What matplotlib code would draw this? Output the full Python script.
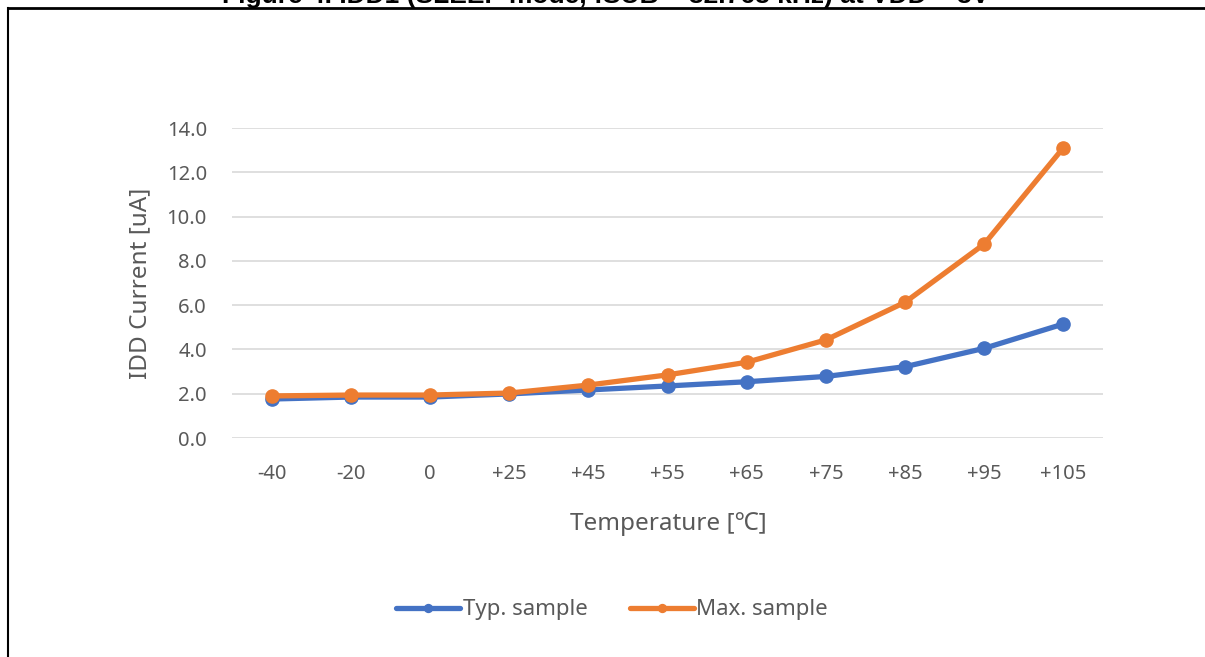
import matplotlib.pyplot as plt
from matplotlib.lines import Line2D

temps = ["-40", "-20", "0", "+25", "+45", "+55", "+65", "+75", "+85", "+95", "+105"]
typ_sample = [1.76, 1.85, 1.85, 1.99, 2.17, 2.35, 2.54, 2.78, 3.22, 4.05, 5.15]
max_sample = [1.90, 1.94, 1.94, 2.03, 2.39, 2.85, 3.42, 4.43, 6.13, 8.76, 13.11]
yticks = [0, 2, 4, 6, 8, 10, 12, 14]

plt.rcParams['font.family'] = ['Noto Sans', 'DejaVu Sans']
W, H = 1205, 657
fig = plt.figure(figsize=(W / 100, H / 100), dpi=100)

# plot area in pixels: x 232..1103, y 128..438 (0..14)
ax = fig.add_axes([232 / W, 1 - 438 / H, (1103 - 232) / W, (438 - 128) / H])
x = list(range(len(temps)))
ax.plot(x, typ_sample, color="#4472C4", lw=3.8, marker="o", ms=9.5,
        label="Typ. sample", solid_capstyle="round", zorder=3)
ax.plot(x, max_sample, color="#ED7D31", lw=3.8, marker="o", ms=9.5,
        label="Max. sample", solid_capstyle="round", zorder=4)

ax.set_xlim(-0.5, len(temps) - 0.5)
ax.set_ylim(0, 14)
ax.set_yticks(yticks)
ax.set_yticklabels([f"{v:.1f}" for v in yticks])
ax.set_xticks(x)
ax.set_xticklabels(temps)
ax.grid(axis="y", color="#d9d9d9", lw=1.2)
ax.set_axisbelow(True)
for s in ax.spines.values():
    s.set_visible(False)
ax.tick_params(length=0, labelsize=14.5, colors="#595959")
ax.tick_params(axis="x", pad=19)
ax.tick_params(axis="y", pad=18)

fig.text(140 / W, 1 - 283 / H, "IDD Current [uA]", rotation=90, ha="center",
         va="center", fontsize=17.5, color="#595959")
fig.text(668 / W, 1 - 524 / H, "Temperature [\u2103]", ha="center", va="center",
         fontsize=17.5, color="#595959")

leg = fig.legend(loc="center", bbox_to_anchor=(612 / W, 1 - 610 / H), ncol=2,
                 frameon=False, fontsize=16, handlelength=2.9, handletextpad=0.1,
                 columnspacing=1.9, markerscale=0.6)
for t in leg.get_texts():
    t.set_color("#595959")

# cut-off caption and frame at the top
fig.text(606 / W, 1 - 2.5 / H, "Figure 4. IDD1 (SLEEP mode, fSUB = 32.768 kHz) at VDD = 3V",
         ha="center", va="baseline", fontsize=19, fontweight="bold",
         family="Liberation Sans")
fig.add_artist(Line2D([8 / W, 1], [1 - 7.5 / H, 1 - 7.5 / H], color="black", lw=2))
fig.add_artist(Line2D([8 / W, 8 / W], [0, 1 - 7.5 / H], color="black", lw=1.5))

fig.savefig("out.png", dpi=100)
